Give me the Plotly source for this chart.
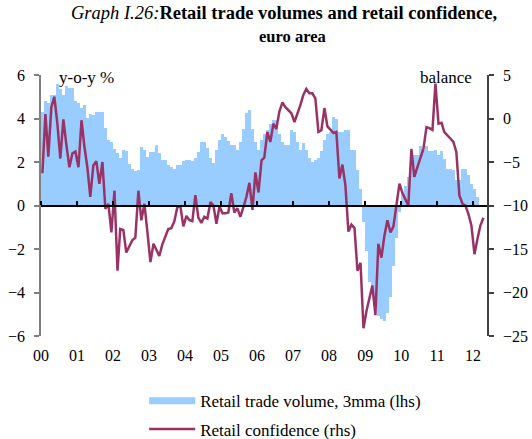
import plotly.graph_objects as go
import pandas as pd

# Retail trade volume, 3-month moving average, y-o-y % (monthly, Jan 2000 - Feb 2012)
retail_volume_3mma = [
    4.3, 4.8, 4.7, 5.1, 5.1, 5.6, 5.35, 5.07, 5.5, 5.4, 5.4, 4.8,
    4.7, 4.47, 4.6, 4.04, 4.2, 4.15, 4.3, 4.3, 4.3, 3.55, 3.0, 2.9,
    2.6, 2.4, 2.2, 2.57, 2.5, 1.93, 1.7, 1.6, 1.65, 2.7, 2.55, 2.23,
    2.45, 2.45, 2.76, 2.4, 2.07, 2.07, 1.84, 1.75, 1.69, 1.88, 1.88, 2.04,
    2.1, 2.07, 2.04, 2.2, 2.46, 2.92, 2.92, 2.66, 2.2, 1.95, 2.53, 3.03,
    3.27, 3.15, 2.96, 2.76, 2.76, 2.53, 2.92, 3.53, 4.25, 4.38, 3.53, 2.92,
    2.55, 3.03, 3.3, 3.45, 3.76, 3.92, 3.92, 3.3, 2.92, 2.76, 2.76, 3.45,
    3.38, 2.92, 2.53, 2.88, 2.53, 2.2, 2.0, 2.1, 2.2, 2.5, 3.0, 3.3,
    3.38, 4.07, 4.0, 3.38, 3.38, 3.45, 3.45, 2.57, 2.57, 1.61, 0.77, -0.77,
    -2.07, -3.5, -4.0, -4.6, -5.1, -5.2, -5.3, -4.95, -4.2, -2.8, -1.5, -0.3,
    0.54, 0.9, 1.3, 2.0, 2.3, 2.3, 2.72, 2.57, 2.72, 2.49, 2.49, 2.57,
    2.34, 2.49, 2.15, 1.69, 1.69, 1.65, 1.15, 1.15, 1.69, 1.69, 1.38, 1.0,
    0.77, 0.41,
]

# Retail confidence, balance (monthly, Jan 2000 - Apr 2012)
retail_confidence = [
    -6.3, 0.5, -4.4, 1.3, 2.5, -0.6, -4.6, -0.1, -3.1, -5.6, -4.0, -3.8,
    -5.6, -0.2, -3.1, -5.6, -9.0, -5.4, -4.9, -7.5, -5.0, -10.4, -9.8, -13.1,
    -8.3, -17.5, -12.7, -12.8, -15.4, -14.6, -14.0, -13.7, -8.3, -11.7, -9.8, -13.0,
    -16.5, -14.4, -15.0, -15.8, -14.5, -13.5, -12.7, -12.6, -11.8, -10.2, -10.1, -12.4,
    -11.2, -11.7, -11.8, -8.8, -11.4, -12.0, -11.3, -11.5, -9.6, -10.0, -12.1, -10.1,
    -10.9, -10.9, -10.8, -8.6, -10.8, -10.3, -11.3, -10.2, -9.0, -7.4, -10.5, -6.2,
    -8.5, -4.8, -4.5, -1.55, -2.7, -0.6, -1.2, 0.8, 1.85, 1.3, 1.0, 0.6,
    -0.4, 0.5, 1.5, 2.7, 3.4, 2.9, 2.9, 2.3, -1.55, -1.35, 1.2, -0.9,
    -1.3, -1.66, -1.55, -6.9, -5.3, -7.7, -13.0, -12.2, -12.6, -17.5, -16.6, -24.1,
    -22.1, -20.5, -19.2, -22.6, -14.4, -16.0, -13.5, -11.7, -13.1, -12.4, -10.0, -7.5,
    -8.6, -9.4, -10.0, -3.5, -6.7, -5.6, -4.5, -3.5, -1.0, -1.1, -1.3, 4.0,
    -0.6, -0.5, -1.55, -2.0, -2.3, -2.7, -3.85, -8.85, -9.8, -10.0, -11.0, -12.3,
    -15.6, -13.8, -12.3, -11.4,
]

year_labels = ["00", "01", "02", "03", "04", "05", "06", "07", "08", "09", "10", "11", "12"]

BLUE = "#99CCFF"
PLUM = "#993366"
SERIF = "Liberation Serif"

half_month = pd.Timedelta(days=14)
bar_months = pd.date_range("2000-01-01", periods=len(retail_volume_3mma), freq="MS") + half_month
line_months = pd.date_range("2000-01-01", periods=len(retail_confidence), freq="MS") + half_month
year_starts = pd.date_range("2000-01-01", periods=len(year_labels), freq="YS")

fig = go.Figure()

fig.add_trace(go.Bar(
    x=bar_months, y=retail_volume_3mma,
    marker=dict(color=BLUE, line=dict(width=0)),
    width=31 * 86400000,
    name="Retail trade volume, 3mma (lhs)",
    showlegend=False, yaxis="y",
))
# legend proxy for the bars (wide rectangle swatch)
fig.add_trace(go.Scatter(
    x=[None], y=[None], mode="lines",
    line=dict(color=BLUE, width=7),
    name="Retail trade volume, 3mma (lhs)", legendgroup="a", yaxis="y",
))
fig.add_trace(go.Scatter(
    x=line_months, y=retail_confidence, mode="lines",
    line=dict(color=PLUM, width=2.5),
    name="Retail confidence (rhs)", legendgroup="b", yaxis="y2",
))
# invisible trace so the zero-line axis is drawn
fig.add_trace(go.Scatter(
    x=[year_starts[0]], y=[None], xaxis="x2", yaxis="y",
    mode="lines", showlegend=False, hoverinfo="skip",
))

x_range = ["2000-01-01", "2012-05-21"]
tick_font = dict(family=SERIF, size=16, color="black")

fig.update_layout(
    width=532, height=439,
    margin=dict(l=41, r=45, t=75, b=103, autoexpand=False),
    paper_bgcolor="white", plot_bgcolor="white",
    bargap=0,
    font=dict(family=SERIF, size=15, color="black"),
    xaxis=dict(
        type="date", range=x_range,
        tickvals=year_starts, ticktext=year_labels,
        showgrid=False, zeroline=False, showline=False, ticks="",
        ticklabelstandoff=8, tickfont=tick_font, automargin=False,
    ),
    xaxis2=dict(
        type="date", range=x_range, overlaying="x", anchor="free", position=0.5,
        side="top", tickvals=year_starts, showticklabels=False,
        showgrid=False, zeroline=False, showline=True, linecolor="black", linewidth=2,
        ticks="outside", ticklen=4, tickwidth=2, tickcolor="black", automargin=False,
    ),
    yaxis=dict(
        range=[-6, 6], dtick=2, tick0=0,
        showgrid=False, zeroline=False,
        showline=True, linecolor="#808080", linewidth=1.5,
        ticks="outside", ticklen=5, tickcolor="#808080", tickwidth=1.5,
        ticklabelstandoff=6, tickfont=tick_font, automargin=False,
    ),
    yaxis2=dict(
        range=[-25, 5], dtick=5, tick0=0, overlaying="y", side="right",
        showgrid=False, zeroline=False,
        showline=True, linecolor="#404040", linewidth=1.5,
        ticks="outside", ticklen=5, tickcolor="#404040", tickwidth=1.5,
        ticklabelstandoff=6, tickfont=tick_font, automargin=False,
    ),
    legend=dict(
        xref="container", yref="container",
        x=0.271, y=0.127, xanchor="left", yanchor="top",
        orientation="v", traceorder="grouped", tracegroupgap=3,
        itemwidth=46, font=dict(size=17, family=SERIF),
        bgcolor="rgba(0,0,0,0)",
    ),
    annotations=[
        dict(text="<i>Graph I.26:</i><b>Retail trade volumes and retail confidence,</b>",
             xref="paper", yref="paper", x=0.545, y=1.236, showarrow=False,
             xanchor="center", yanchor="middle", font=dict(size=18.5, family=SERIF)),
        dict(text="<b>euro area</b>",
             xref="paper", yref="paper", x=0.565, y=1.149, showarrow=False,
             xanchor="center", yanchor="middle", font=dict(size=16.5, family=SERIF)),
        dict(text="y-o-y %", xref="paper", yref="paper", x=0.036, y=0.99,
             showarrow=False, xanchor="left", yanchor="middle",
             font=dict(size=17, family=SERIF)),
        dict(text="balance", xref="paper", yref="paper", x=0.97, y=0.99,
             showarrow=False, xanchor="right", yanchor="middle",
             font=dict(size=17, family=SERIF)),
    ],
)

fig.write_html(
    "out.html",
    config={"displayModeBar": False},
    post_script="document.body.style.margin='0px';document.body.style.overflow='hidden';",
)
